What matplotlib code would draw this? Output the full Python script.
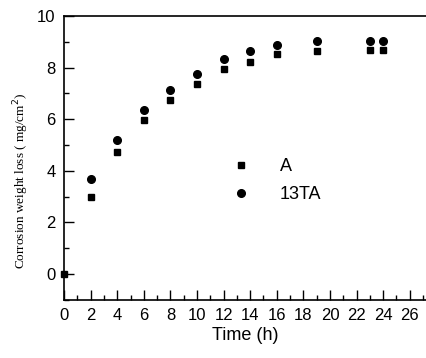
import matplotlib.pyplot as plt
from matplotlib.ticker import MultipleLocator

# data
time_a = [0, 2, 4, 6, 8, 10, 12, 14, 16, 19, 23, 24]
loss_a = [0.0, 3.0, 4.72, 5.97, 6.73, 7.36, 7.95, 8.23, 8.52, 8.65, 8.68, 8.68]
time_13ta = [2, 4, 6, 8, 10, 12, 14, 16, 19, 23, 24]
loss_13ta = [3.69, 5.19, 6.36, 7.15, 7.75, 8.35, 8.65, 8.87, 9.04, 9.04, 9.04]

fig = plt.figure(figsize=(4.27, 3.58), dpi=100)
ax = fig.add_axes([0.150, 0.163, 0.85, 0.792])

ax.plot(time_13ta, loss_13ta, 'o', color='black', markersize=5.5, label='13TA')
ax.plot(time_a, loss_a, 's', color='black', markersize=5, label='A',
        clip_on=False, zorder=5)

ax.set_xlim(0, 27.3)
ax.set_ylim(-1, 10)
ax.xaxis.set_major_locator(MultipleLocator(2))
ax.xaxis.set_minor_locator(MultipleLocator(1))
ax.yaxis.set_major_locator(MultipleLocator(2))
ax.yaxis.set_minor_locator(MultipleLocator(1))
ax.tick_params(which='both', direction='in', top=False, right=False,
               labelsize=12, width=1)
ax.tick_params(which='major', length=7, pad=6)
ax.tick_params(which='minor', length=3.5)
for lab in ax.get_xticklabels() + ax.get_yticklabels():
    lab.set_family('Liberation Sans')

ax.spines['right'].set_visible(False)
for s in ['left', 'bottom', 'top']:
    ax.spines[s].set_linewidth(1.2)

ax.set_xlabel('Time (h)', fontsize=13, family='Liberation Sans', labelpad=3)
ax.set_ylabel('Corrosion weight loss ( mg/cm$^2$)', fontsize=9.5,
              family='Liberation Serif')
ax.yaxis.set_label_coords(-0.092, 0.42)

handles, labels = ax.get_legend_handles_labels()
ax.legend(handles[::-1], labels[::-1], frameon=False, loc='center left',
          bbox_to_anchor=(0.405, 0.42), prop={'family': 'Liberation Sans', 'size': 13},
          handletextpad=1.4, labelspacing=0.6, handlelength=1.5)

fig.savefig('out.png', dpi=100)
